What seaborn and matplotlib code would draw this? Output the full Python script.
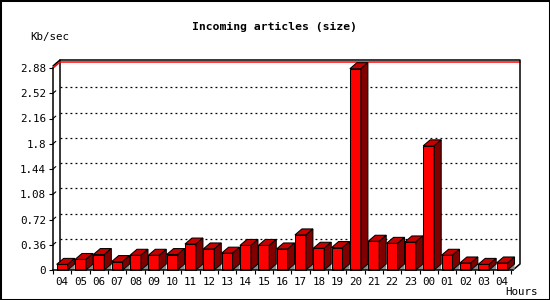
import numpy as np
import pandas as pd
import matplotlib
matplotlib.use("Agg")
import matplotlib.pyplot as plt
import seaborn as sns
from matplotlib.patches import Polygon, Rectangle
from matplotlib.lines import Line2D

hours = ["04", "05", "06", "07", "08", "09", "10", "11", "12", "13", "14", "15",
         "16", "17", "18", "19", "20", "21", "22", "23", "00", "01", "02", "03", "04"]
values = [0.08, 0.15, 0.22, 0.12, 0.21, 0.21, 0.22, 0.37, 0.30, 0.24, 0.35, 0.35,
          0.30, 0.50, 0.31, 0.32, 2.87, 0.41, 0.38, 0.40, 1.77, 0.21, 0.10, 0.08, 0.10]
yticks = [0, 0.36, 0.72, 1.08, 1.44, 1.8, 2.16, 2.52, 2.88]
ytick_labels = ["0", "0.36", "0.72", "1.08", "1.44", "1.8", "2.16", "2.52", "2.88"]
max_line = 2.88

title = "Incoming articles (size)"
ylabel = "Kb/sec"
xlabel = "Hours"

sns.set_style("white")
plt.rcParams['font.family'] = ['DejaVu Sans Mono', 'DejaVu Sans']
plt.rcParams['text.color'] = 'black'
plt.rcParams['xtick.color'] = 'black'
plt.rcParams['ytick.color'] = 'black'
plt.rcParams['xtick.labelcolor'] = 'black'
plt.rcParams['ytick.labelcolor'] = 'black'

W, H = 550, 300
fig = plt.figure(figsize=(W / 100, H / 100), dpi=100)
ax_l, ax_b, ax_w, ax_h = 53, 30, 460, 202
ax = fig.add_axes([ax_l / W, ax_b / H, ax_w / W, ax_h / H])

df = pd.DataFrame({"slot": np.arange(len(values)), "value": values})
sns.barplot(data=df, x="slot", y="value", ax=ax, color="#ff0000", width=0.6,
            edgecolor="black", linewidth=0.75, saturation=1, zorder=3)

xmin, xmax = -0.5, 24.6
ymin, ymax = 0, 2.88
ax.set_xlim(xmin, xmax)
ax.set_ylim(ymin, ymax)

pxx = ax_w / (xmax - xmin)
pxy = ax_h / (ymax - ymin)
DX, DY = 7, 6
dx = DX / pxx
dy = DY / pxy
top_extra = 2 / pxy

# back plane grid (dotted)
for t in yticks[1:-1]:
    ax.add_line(Line2D([xmin + dx, xmax + dx], [t + dy, t + dy], color="black",
                       lw=0.9, ls=(0, (1.5, 2.5)), clip_on=False, zorder=1))
    ax.add_line(Line2D([xmin, xmin + dx * 0.4], [t, t + dy * 0.4], color="black",
                       lw=0.8, clip_on=False, zorder=1))

# red max line + back frame
ax.add_line(Line2D([xmin, xmin + dx, xmax + dx], [max_line, max_line + dy, max_line + dy],
                   color="#ff0000", lw=1.1, clip_on=False, zorder=2))
ax.add_line(Line2D([xmin, xmin + dx, xmax + dx, xmax + dx, xmax],
                   [ymax + top_extra, ymax + dy + top_extra, ymax + dy + top_extra, dy, 0],
                   color="black", lw=1.1, clip_on=False, zorder=2))
ax.add_line(Line2D([xmin + dx, xmin + dx], [ymax + dy + top_extra, dy],
                   color="black", lw=1.1, clip_on=False, zorder=1))

# 3D faces for bars
for p in list(ax.patches):
    x0 = p.get_x()
    w = p.get_width()
    h = p.get_height()
    shadow = Polygon([(x0 + w, 0), (x0 + w + dx, dy), (x0 + w + dx, 0)], closed=True,
                     facecolor="#8c8c8c", edgecolor="none", clip_on=False, zorder=2.5)
    topf = Polygon([(x0, h), (x0 + w, h), (x0 + w + dx, h + dy), (x0 + dx, h + dy)],
                   closed=True, facecolor="#c80000", edgecolor="black", lw=0.75,
                   clip_on=False, zorder=3)
    side = Polygon([(x0 + w, 0), (x0 + w + dx, dy), (x0 + w + dx, h + dy), (x0 + w, h)],
                   closed=True, facecolor="#800000", edgecolor="black", lw=0.75,
                   clip_on=False, zorder=3)
    ax.add_patch(shadow)
    ax.add_patch(topf)
    ax.add_patch(side)
    p.set_clip_on(False)

# axes styling
for s in ["top", "right"]:
    ax.spines[s].set_visible(False)
for s in ["left", "bottom"]:
    ax.spines[s].set_color("black")
    ax.spines[s].set_linewidth(1.1)
    ax.spines[s].set_zorder(4)
ax.grid(False)
ax.set_xlabel("")
ax.set_ylabel("")
ax.set_yticks(yticks)
ax.set_yticklabels(ytick_labels)
ax.set_xticks(np.arange(len(hours)))
ax.set_xticklabels(hours)
ax.set_xticks(np.arange(len(hours) + 1) - 0.5, minor=True)
ax.tick_params(axis="y", which="major", length=3, width=0.8, direction="out",
               labelsize=7.8, pad=2, color="black", labelcolor="black", left=True)
ax.tick_params(axis="x", which="major", length=0, labelsize=7.8, pad=5,
               labelcolor="black")
ax.tick_params(axis="x", which="minor", length=3, width=0.8, direction="out",
               color="black", bottom=True)

fig.text(274 / W, 1 - 27 / H, title, ha="center", va="center", fontsize=8.2,
         fontweight="bold", color="black")
fig.text(30 / W, 1 - 37 / H, ylabel, ha="left", va="center", fontsize=7.8, color="black")
fig.text(505 / W, 1 - 292 / H, xlabel, ha="left", va="center", fontsize=7.8, color="black")

fig.patches.append(Rectangle((0, 0), 1, 1, transform=fig.transFigure, fill=False,
                             edgecolor="black", lw=2.2, zorder=10))

fig.savefig("out.png", dpi=100)
